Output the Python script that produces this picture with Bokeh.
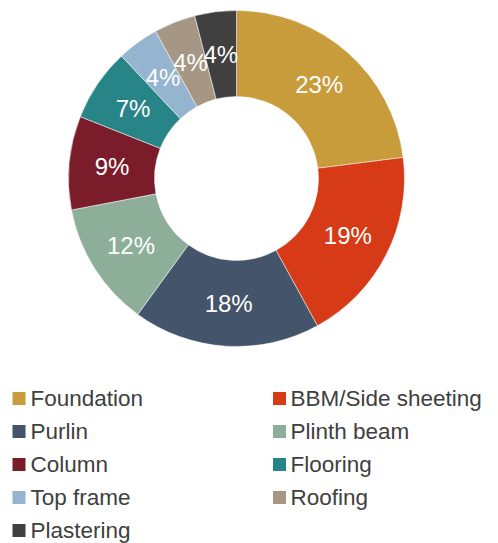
import math
from bokeh.plotting import figure
from bokeh.models import Range1d, ColumnDataSource
from bokeh.core.properties import value
from bokeh.embed import file_html
from bokeh.resources import INLINE

categories = ["Foundation", "BBM/Side sheeting", "Purlin", "Plinth beam", "Column",
              "Flooring", "Top frame", "Roofing", "Plastering"]
shares = [23, 19, 18, 12, 9, 7, 4, 4, 4]
colors = ["#C89B3B", "#D63A16", "#44546A", "#8DAF9A", "#7B1C2A",
          "#288587", "#94B4CF", "#A69785", "#404040"]

W, H = 490, 543
p = figure(width=W, height=H, output_backend="svg", toolbar_location=None,
           x_range=Range1d(0, W), y_range=Range1d(0, H), min_border=0)
p.axis.visible = False
p.grid.visible = False
p.outline_line_color = None

cx, cy = 236, H - 178
r_out, r_in = 168, 82
total = sum(shares)
starts, ends, lx, ly, labels = [], [], [], [], []
cum = 0
for s in shares:
    a0 = math.pi / 2 - 2 * math.pi * cum / total
    a1 = math.pi / 2 - 2 * math.pi * (cum + s) / total
    starts.append(a0)
    ends.append(a1)
    mid = (a0 + a1) / 2
    rm = (r_out + r_in) / 2
    lx.append(cx + rm * math.cos(mid))
    ly.append(cy + rm * math.sin(mid))
    labels.append(f"{s}%")
    cum += s

src = ColumnDataSource(dict(start=starts, end=ends, color=colors, lx=lx, ly=ly, label=labels))
p.annular_wedge(x=cx, y=cy, inner_radius=r_in, outer_radius=r_out,
                start_angle="start", end_angle="end", direction="clock",
                fill_color="color", line_color="white", line_width=0.5, source=src)
p.text(x="lx", y="ly", text="label", source=src, text_color="white",
       text_font=value("Liberation Sans"), text_font_size="24px",
       text_align="center", text_baseline="middle")

# legend
sx, tx, sy = [], [], []
for i, c in enumerate(categories):
    col = i % 2
    row = i // 2
    sx.append(18.5 if col == 0 else 279)
    tx.append(30 if col == 0 else 290)
    sy.append(H - (398 + 33 * row))
lsrc = ColumnDataSource(dict(sx=sx, tx=tx, sy=sy, name=categories, color=colors))
p.rect(x="sx", y="sy", width=13, height=13, fill_color="color", line_color=None, source=lsrc)
p.text(x="tx", y="sy", text="name", source=lsrc, text_color="#404040",
       text_font=value("Liberation Sans"), text_font_size="22.5px",
       text_align="left", text_baseline="middle")

open("out.html", "w").write(file_html(p, INLINE))
